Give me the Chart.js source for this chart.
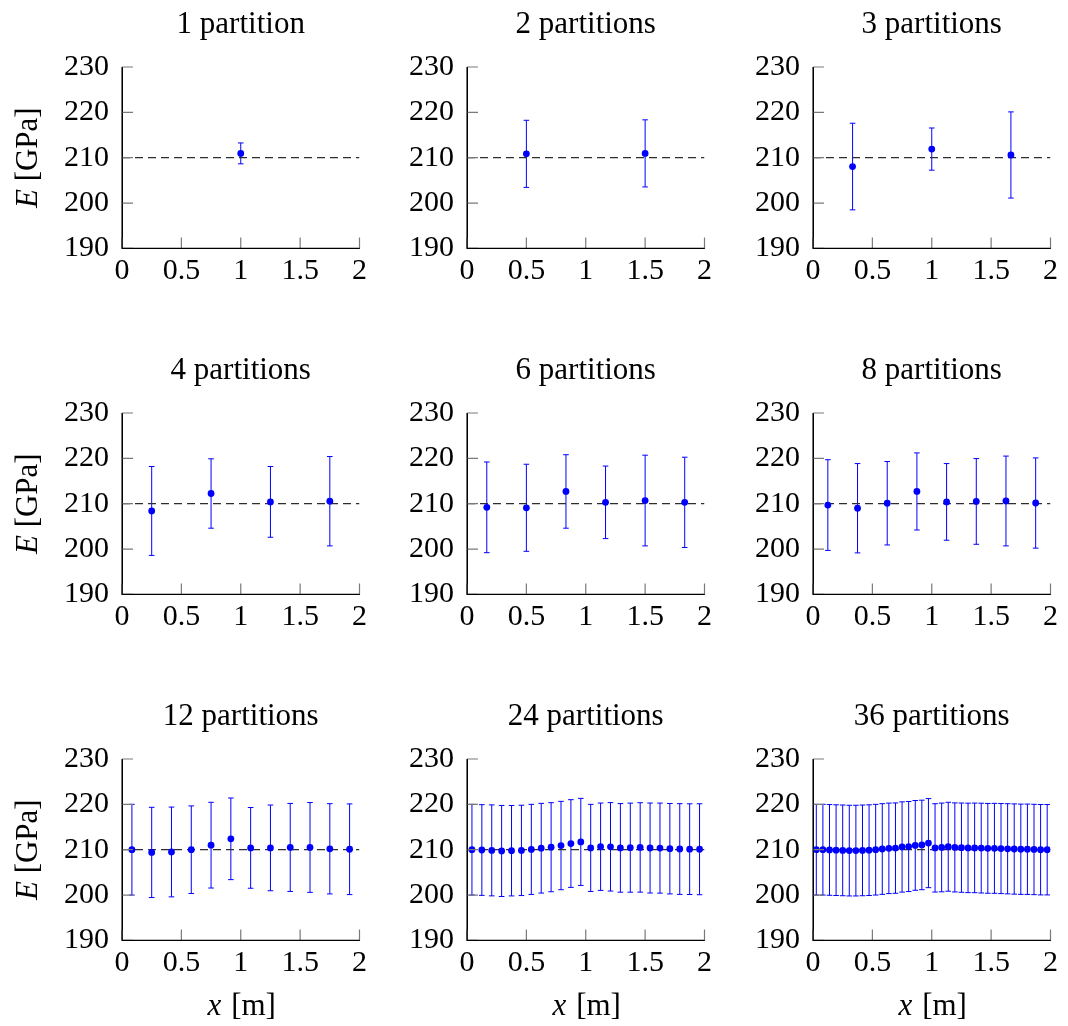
<!DOCTYPE html>
<html><head><meta charset="utf-8">
<script src="https://cdn.jsdelivr.net/npm/chart.js@4.4.1/dist/chart.umd.min.js"></script>
<style>
html,body{margin:0;padding:0;background:#fff;overflow:hidden;width:1068px;height:1026px}
.p{position:absolute;width:360px;height:325px}
canvas{display:block}
</style></head><body>
<script>
// ---- data ----
const titles = ["1 partition","2 partitions","3 partitions","4 partitions","6 partitions","8 partitions","12 partitions","24 partitions","36 partitions"];
const xTickValues = [0, 0.5, 1, 1.5, 2];
const xTickLabels = ["0", "0.5", "1", "1.5", "2"];
const yTickValues = [190, 200, 210, 220, 230];
const yTickLabels = ["190", "200", "210", "220", "230"];
const referenceE = 210;

const x1 = [1];
const E1 = [210.95];
const err1 = [2.3];

const x2 = [0.5, 1.5];
const E2 = [210.85, 210.95];
const err2 = [7.4, 7.4];

const x3 = [0.3333, 1, 1.6667];
const E3 = [208.05, 211.9, 210.6];
const err3 = [9.55, 4.65, 9.5];

const x4 = [0.25, 0.75, 1.25, 1.75];
const E4 = [208.4, 212.25, 210.4, 210.55];
const err4 = [9.8, 7.65, 7.8, 9.85];

const x6 = [0.1667, 0.5, 0.8333, 1.1667, 1.5, 1.8333];
const E6 = [209.2, 209.1, 212.7, 210.3, 210.7, 210.3];
const err6 = [10.0, 9.6, 8.1, 8.0, 10.0, 9.95];

const x8 = [0.125, 0.375, 0.625, 0.875, 1.125, 1.375, 1.625, 1.875];
const E8 = [209.7, 209.0, 210.1, 212.7, 210.4, 210.5, 210.6, 210.15];
const err8 = [10.0, 9.85, 9.2, 8.5, 8.45, 9.45, 9.9, 9.95];

const x12 = [0.0833, 0.25, 0.4167, 0.5833, 0.75, 0.9167, 1.0833, 1.25, 1.4167, 1.5833, 1.75, 1.9167];
const E12 = [210.0, 209.4, 209.5, 210.0, 211.0, 212.4, 210.4, 210.4, 210.5, 210.5, 210.2, 210.1];
const err12 = [10.0, 9.95, 9.9, 9.65, 9.45, 9.0, 8.9, 9.45, 9.7, 9.9, 9.95, 10.0];

const x24 = [0.0417, 0.125, 0.2083, 0.2917, 0.375, 0.4583, 0.5417, 0.625, 0.7083, 0.7917, 0.875, 0.9583,
             1.0417, 1.125, 1.2083, 1.2917, 1.375, 1.4583, 1.5417, 1.625, 1.7083, 1.7917, 1.875, 1.9583];
const E24 = [210.0, 209.93, 209.85, 209.72, 209.78, 209.85, 210.07, 210.33, 210.55, 210.92, 211.36, 211.72,
             210.4, 210.66, 210.63, 210.4, 210.45, 210.5, 210.37, 210.35, 210.22, 210.15, 210.12, 210.1];
const err24 = [10.0, 10.0, 10.03, 10.04, 9.97, 9.96, 9.93, 9.89, 9.82, 9.74, 9.67, 9.6,
               9.6, 9.63, 9.75, 9.77, 9.82, 9.86, 9.92, 9.93, 9.97, 10.0, 10.0, 10.03];

const x36 = [0.0278, 0.0833, 0.1389, 0.1944, 0.25, 0.3056, 0.3611, 0.4167, 0.4722, 0.5278, 0.5833, 0.6389,
             0.6944, 0.75, 0.8056, 0.8611, 0.9167, 0.9722, 1.0278, 1.0833, 1.1389, 1.1944, 1.25, 1.3056,
             1.3611, 1.4167, 1.4722, 1.5278, 1.5833, 1.6389, 1.6944, 1.75, 1.8056, 1.8611, 1.9167, 1.9722];
const E36 = [210.0, 210.0, 209.95, 209.9, 209.85, 209.8, 209.8, 209.85, 209.9, 210.0, 210.15, 210.3,
             210.35, 210.6, 210.7, 210.95, 211.05, 211.45, 210.4, 210.5, 210.65, 210.5, 210.45, 210.4,
             210.4, 210.35, 210.3, 210.3, 210.25, 210.2, 210.15, 210.1, 210.1, 210.05, 210.0, 210.0];
const err36 = [10.0, 10.0, 10.0, 10.0, 10.0, 10.0, 10.0, 10.0, 10.0, 10.0, 10.0, 9.98,
               9.96, 9.95, 9.93, 9.9, 9.87, 9.82, 9.74, 9.78, 9.8, 9.82, 9.84, 9.86,
               9.88, 9.9, 9.9, 9.92, 9.93, 9.94, 9.95, 9.95, 9.96, 9.96, 9.97, 9.97];

const panelX = [x1, x2, x3, x4, x6, x8, x12, x24, x36];
const panelE = [E1, E2, E3, E4, E6, E8, E12, E24, E36];
const panelErr = [err1, err2, err3, err4, err6, err8, err12, err24, err36];

// ---- layout ----
const W = 360, H = 325, AREA_LEFT = 110, AREA_TOP = 60, AREA_W = 238.6, AREA_H = 181.4, XAXIS_H = 50;
const colLeft = [12, 357, 703];
const rowTop = [7, 353, 699];
const SERIF = "'Liberation Serif', 'DejaVu Serif', serif";

const decorPlugin = {
  id: 'decor',
  beforeDatasetsDraw(chart) {
    const ctx = chart.ctx, xs = chart.scales.x, ys = chart.scales.y;
    const ds = chart.data.datasets[0].data;
    ctx.save();
    ctx.strokeStyle = '#0000ff';
    ctx.lineWidth = 1;
    ds.forEach(p => {
      const px = xs.getPixelForValue(p.x);
      const top = ys.getPixelForValue(p.y + p.e);
      const bot = ys.getPixelForValue(p.y - p.e);
      ctx.beginPath();
      ctx.moveTo(px, top); ctx.lineTo(px, bot);
      ctx.moveTo(px - 2.8, top); ctx.lineTo(px + 2.8, top);
      ctx.moveTo(px - 2.8, bot); ctx.lineTo(px + 2.8, bot);
      ctx.stroke();
    });
    ctx.restore();
  },
  afterDraw(chart) {
    const ctx = chart.ctx, xs = chart.scales.x, ys = chart.scales.y, a = chart.chartArea;
    const o = chart.options.plugins.decor;
    ctx.save();
    // inward tick marks
    ctx.strokeStyle = '#7a7a7a';
    ctx.lineWidth = 1.2;
    ctx.beginPath();
    xTickValues.forEach(v => {
      const px = xs.getPixelForValue(v);
      ctx.moveTo(px, a.bottom); ctx.lineTo(px, a.bottom - 11);
    });
    yTickValues.forEach(v => {
      const py = ys.getPixelForValue(v);
      ctx.moveTo(a.left, py); ctx.lineTo(a.left + 11, py);
    });
    ctx.stroke();
    // redraw axis lines on top
    ctx.strokeStyle = '#000';
    ctx.lineWidth = 1.1;
    ctx.beginPath();
    ctx.moveTo(a.left, a.top); ctx.lineTo(a.left, a.bottom);
    ctx.lineTo(a.right, a.bottom);
    ctx.stroke();
    // title
    ctx.fillStyle = '#000';
    ctx.font = "31px " + SERIF;
    ctx.textAlign = 'center';
    ctx.textBaseline = 'alphabetic';
    ctx.fillText(o.title, (a.left + a.right) / 2, a.top - 34);
    // y axis title
    if (o.yTitle) {
      ctx.save();
      ctx.translate(a.left - 93, (a.top + a.bottom) / 2);
      ctx.rotate(-Math.PI / 2);
      ctx.textBaseline = 'middle';
      ctx.textAlign = 'left';
      const fi = "italic 31px " + SERIF, fn = "31px " + SERIF;
      ctx.font = fi; const w1 = ctx.measureText('E').width;
      ctx.font = fn; const w2 = ctx.measureText(' [GPa]').width;
      const s = -(w1 + w2) / 2;
      ctx.font = fi; ctx.fillText('E', s, 0);
      ctx.font = fn; ctx.fillText(' [GPa]', s + w1, 0);
      ctx.restore();
    }
    if (o.xTitle) {
      ctx.textBaseline = 'middle';
      ctx.textAlign = 'left';
      const fi = "italic 31px " + SERIF, fn = "31px " + SERIF;
      ctx.font = fi; const w1 = ctx.measureText('x').width;
      ctx.font = fn; const w2 = ctx.measureText(' [m]').width;
      const s = (a.left + a.right) / 2 - (w1 + w2) / 2;
      const y = a.bottom + 66;
      ctx.font = fi; ctx.fillText('x', s, y);
      ctx.font = fn; ctx.fillText(' [m]', s + w1 + 2, y);
    }
    ctx.restore();
  }
};

for (let i = 0; i < 9; i++) {
  const r = Math.floor(i / 3), c = i % 3;
  const div = document.createElement('div');
  div.className = 'p';
  div.style.left = colLeft[c] + 'px';
  div.style.top = rowTop[r] + 'px';
  const cv = document.createElement('canvas');
  cv.width = W; cv.height = H;
  cv.style.width = W + 'px'; cv.style.height = H + 'px';
  div.appendChild(cv);
  document.body.appendChild(div);

  const pts = panelX[i].map((x, k) => ({ x: x, y: panelE[i][k], e: panelErr[i][k] }));
  new Chart(cv, {
    type: 'scatter',
    data: {
      datasets: [
        { data: pts, pointRadius: 3.4, pointBackgroundColor: '#0000ff', pointBorderWidth: 0, borderColor: '#0000ff', showLine: false },
        { type: 'line', data: [{ x: xTickValues[0], y: referenceE }, { x: xTickValues[xTickValues.length - 1], y: referenceE }],
          borderColor: '#2e2e2e', borderWidth: 1.3, borderDash: [8, 5], pointRadius: 0, fill: false }
      ]
    },
    options: {
      responsive: false, animation: false, events: [], devicePixelRatio: 1,
      layout: { padding: { left: 0, top: AREA_TOP, right: W - AREA_LEFT - AREA_W, bottom: H - AREA_TOP - AREA_H - XAXIS_H } },
      plugins: {
        legend: { display: false }, tooltip: { enabled: false },
        decor: { title: titles[i], yTitle: c === 0, xTitle: r === 2 }
      },
      scales: {
        x: {
          type: 'linear', min: xTickValues[0], max: xTickValues[xTickValues.length - 1],
          afterBuildTicks: s => { s.ticks = xTickValues.map(v => ({ value: v })); },
          afterFit: s => { s.height = XAXIS_H; },
          grid: { display: false, drawTicks: false },
          border: { display: true, color: '#000', width: 1 },
          ticks: { padding: 5, color: '#000', font: { family: SERIF, size: 30 }, maxRotation: 0, autoSkip: false,
                   callback: (v) => xTickLabels[xTickValues.indexOf(v)] }
        },
        y: {
          type: 'linear', min: yTickValues[0], max: yTickValues[yTickValues.length - 1],
          afterBuildTicks: s => { s.ticks = yTickValues.map(v => ({ value: v })); },
          afterFit: s => { s.width = AREA_LEFT; },
          grid: { display: false, drawTicks: false },
          border: { display: true, color: '#000', width: 1 },
          ticks: { padding: 13, color: '#000', font: { family: SERIF, size: 30 }, autoSkip: false,
                   callback: (v) => yTickLabels[yTickValues.indexOf(v)] }
        }
      }
    },
    plugins: [decorPlugin]
  });
}
</script>
</body></html>
